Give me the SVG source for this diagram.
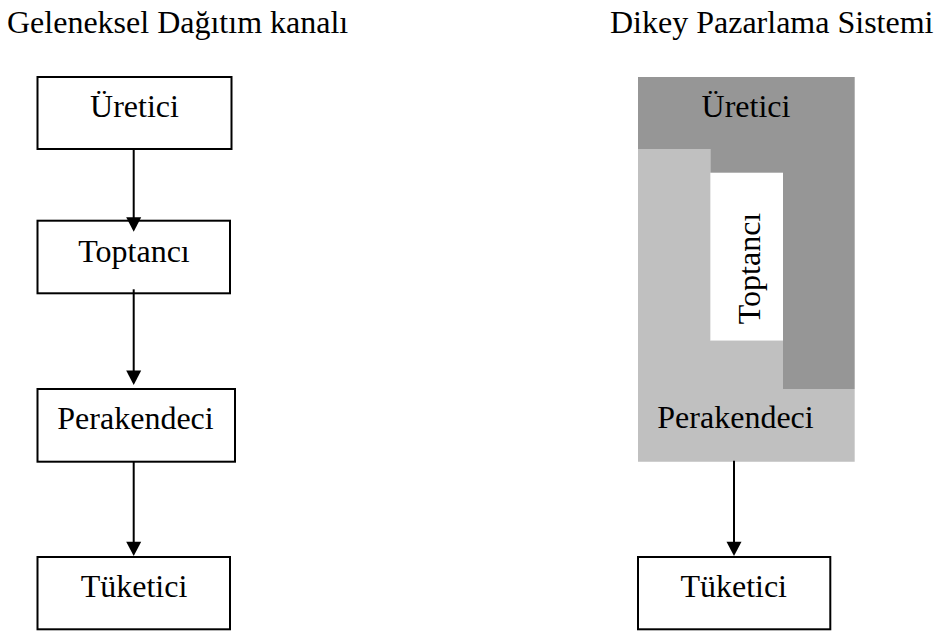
<svg xmlns="http://www.w3.org/2000/svg" width="936" height="633" viewBox="0 0 936 633">
<style>
text{font-family:"Liberation Serif","Times New Roman",serif;font-size:32px;fill:#000}
.box{fill:#fff;stroke:#000;stroke-width:2}
.ln{stroke:#000;stroke-width:2;fill:none}
.ah{fill:#000}
</style>
<rect width="936" height="633" fill="#fff"/>
<g id="titles">
<text x="7" y="33">Geleneksel Dağıtım kanalı</text>
<text x="610" y="33">Dikey Pazarlama Sistemi</text>
</g>
<g id="vms">
<rect id="vms-uretici" x="638" y="77" width="216.7" height="312" fill="#969696"/>
<polygon id="vms-perakendeci" points="638,149 710.7,149 710.7,340.7 783,340.7 783,389 854.7,389 854.7,461.7 638,461.7" fill="#c0c0c0"/>
<rect id="vms-toptanci" x="710.3" y="172.7" width="72.7" height="168" fill="#fff"/>
<text x="746" y="117.3" text-anchor="middle">Üretici</text>
<text transform="translate(760,268.5) rotate(-90)" text-anchor="middle">Toptancı</text>
<text x="735.5" y="428.3" text-anchor="middle">Perakendeci</text>
</g>
<g id="n-uretici"><rect class="box" x="37.5" y="77" width="194" height="72"/><text x="134.5" y="117.3" text-anchor="middle">Üretici</text></g>
<g id="n-toptanci"><rect class="box" x="37.5" y="220.7" width="192.5" height="72.6"/><text x="134" y="261.7" text-anchor="middle">Toptancı</text></g>
<g id="n-perakendeci"><rect class="box" x="37.5" y="389" width="197.5" height="72.7"/><text x="135.5" y="429.3" text-anchor="middle">Perakendeci</text></g>
<g id="n-tuketici"><rect class="box" x="37.5" y="557" width="192.5" height="72.3"/><text x="134" y="596.7" text-anchor="middle">Tüketici</text></g>
<g id="n-tuketici2"><rect class="box" x="638" y="557" width="192.3" height="72.3"/><text x="733.7" y="596.7" text-anchor="middle">Tüketici</text></g>
<g id="connectors">
<line class="ln" x1="133.7" y1="149" x2="133.7" y2="218"/>
<polygon class="ah" points="126.2,217.3 141.2,217.3 133.7,231.7"/>
<line class="ln" x1="133.7" y1="289.3" x2="133.7" y2="371"/>
<polygon class="ah" points="126.2,370.5 141.2,370.5 133.7,385"/>
<line class="ln" x1="133.7" y1="461.7" x2="133.7" y2="542"/>
<polygon class="ah" points="126.2,541.7 141.2,541.7 133.7,556"/>
<line class="ln" x1="734" y1="460.7" x2="734" y2="542"/>
<polygon class="ah" points="726.5,541.7 741.5,541.7 734,556"/>
</g>
</svg>
